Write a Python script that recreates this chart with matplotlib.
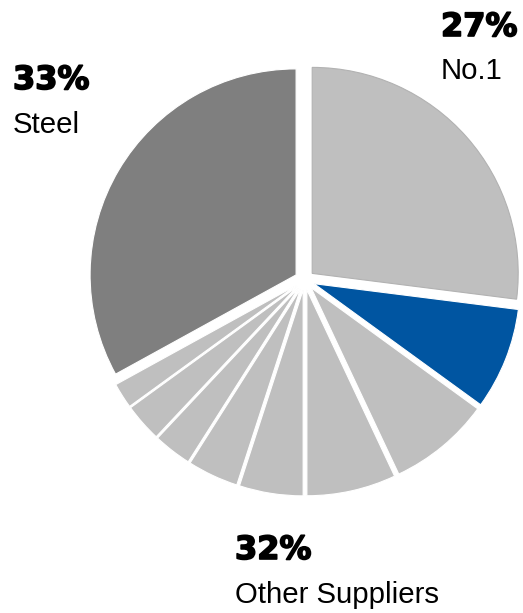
import matplotlib
matplotlib.use("Agg")
import matplotlib.pyplot as plt
import matplotlib.patheffects as pe

# Market share by supplier, clockwise from 12 o'clock
segments = ["No.1", "Highlight", "S1", "S2", "S3", "S4", "S5", "S6", "S7", "Steel"]
shares = [27, 8, 8, 7, 5, 4, 3, 3, 2, 33]
groups = ["No.1", "Highlight", "Other", "Other", "Other", "Other", "Other", "Other", "Other", "Steel"]

group_colors = {
    "No.1": "#bfbfbf",
    "Highlight": "#0055a1",
    "Other": "#bfbfbf",
    "Steel": "#7f7f7f",
}

W, H = 523, 613
fig = plt.figure(figsize=(W / 100, H / 100), dpi=100)
ax = fig.add_axes([0, 0, 1, 1])

colors = [group_colors[g] for g in groups]
# explode offsets are in data units (pixels here)
offsets = [10] * len(shares)
wedges, _ = ax.pie(
    shares,
    colors=colors,
    startangle=90,
    counterclock=False,
    explode=offsets,
    center=(304.7, H - 280),
    radius=206,
    wedgeprops=dict(edgecolor="white", linewidth=0.8),
    frame=True,
)
ax.set_xlim(0, W)
ax.set_ylim(0, H)
ax.set_aspect("equal")
ax.axis("off")
wedges[0].set_edgecolor("#b2b2b2")

def group_total(name):
    return sum(v for v, g in zip(shares, groups) if g == name)

pct_font = dict(family="DejaVu Sans", weight="bold", size=23, color="black",
                path_effects=[pe.withStroke(linewidth=1.2, foreground="black")])
lbl_font = dict(family="Liberation Sans", size=21.2, color="black")

def label(x, y_pct, y_name, value, name):
    fig.text(x / W, 1 - y_pct / H, f"{value}%", va="baseline", ha="left", **pct_font)
    fig.text(x / W, 1 - y_name / H, name, va="baseline", ha="left", **lbl_font)

label(441, 36, 79, group_total("No.1"), "No.1")
label(13, 89, 133, group_total("Steel"), "Steel")
label(235, 559, 603, group_total("Other"), "Other Suppliers")

fig.savefig("out.png", dpi=100, facecolor="white")
